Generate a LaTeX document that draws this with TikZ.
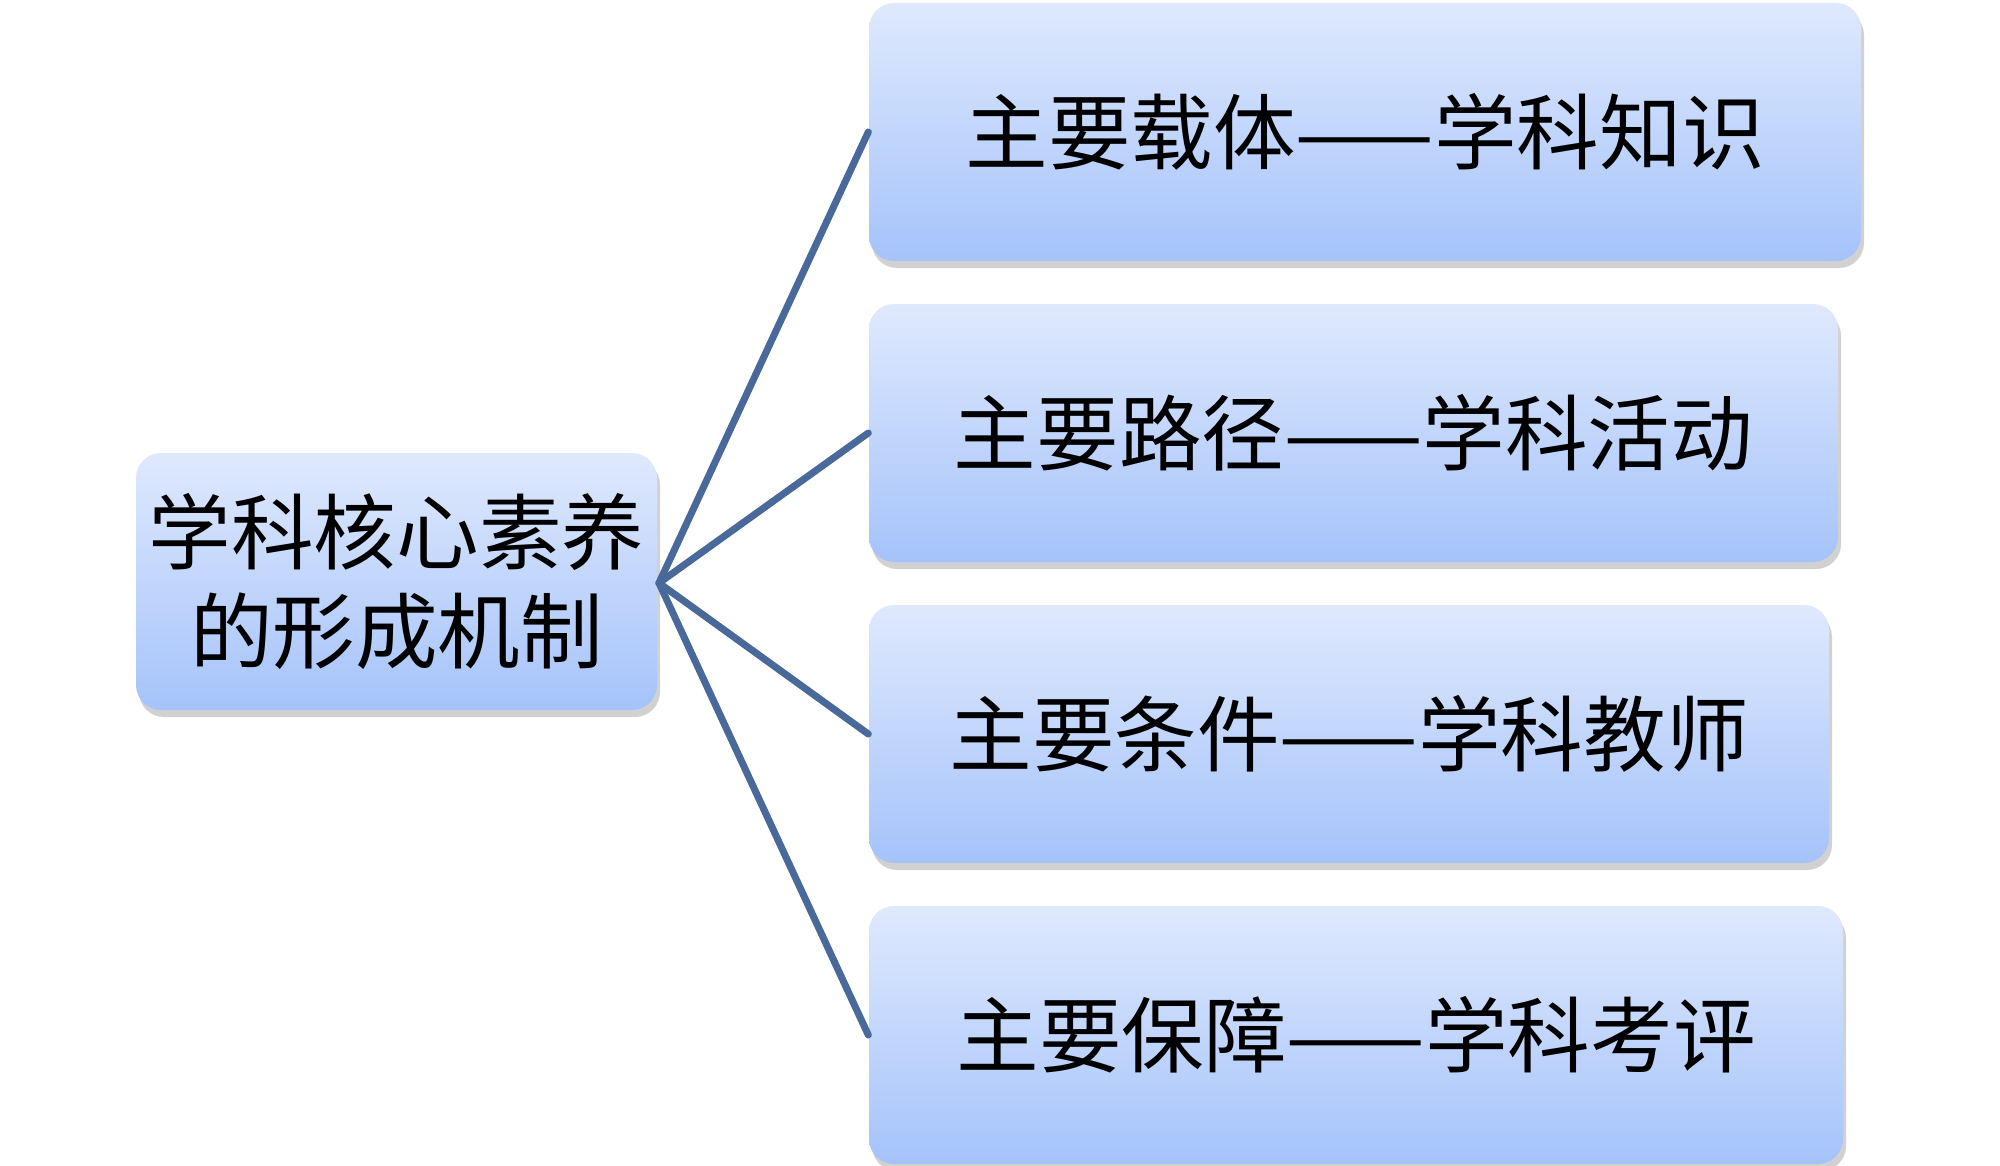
\documentclass[tikz,border=0pt]{standalone}
\usepackage{fontspec}
\setmainfont{Noto Sans CJK SC}
\usetikzlibrary{shadows}
\definecolor{boxtop}{HTML}{DFE9FD}
\definecolor{boxbot}{HTML}{A5C3FA}
\definecolor{linkc}{HTML}{48699A}
\tikzset{
  mbox/.style={rectangle, rounded corners=0.25cm, top color=boxtop, bottom color=boxbot,
    draw=none, align=center, inner sep=0pt, minimum height=2.58cm,
    font=\fontsize{23.5pt}{28pt}\selectfont,
    drop shadow={shadow xshift=0.03cm, shadow yshift=-0.07cm, opacity=0.3, fill=black!60}},
  link/.style={draw=linkc, line width=2pt, line cap=round}
}
\begin{document}
\begin{tikzpicture}
\path[use as bounding box] (0,0) rectangle (20,11.65);
\coordinate (J) at (6.59,5.82);
\node[mbox, minimum width=5.21cm, minimum height=2.57cm] (L) at (3.965,5.835) {学科核心素养\\的形成机制};
\node[mbox, minimum width=9.92cm] (b1) at (13.65,10.33) {主要载体——学科知识};
\node[mbox, minimum width=9.69cm] (b2) at (13.535,7.32) {主要路径——学科活动};
\node[mbox, minimum width=9.60cm] (b3) at (13.49,4.31) {主要条件——学科教师};
\node[mbox, minimum width=9.74cm] (b4) at (13.56,1.30) {主要保障——学科考评};
\draw[link] (J) -- (b1.west);
\draw[link] (J) -- (b2.west);
\draw[link] (J) -- (b3.west);
\draw[link] (J) -- (b4.west);
\end{tikzpicture}
\end{document}
